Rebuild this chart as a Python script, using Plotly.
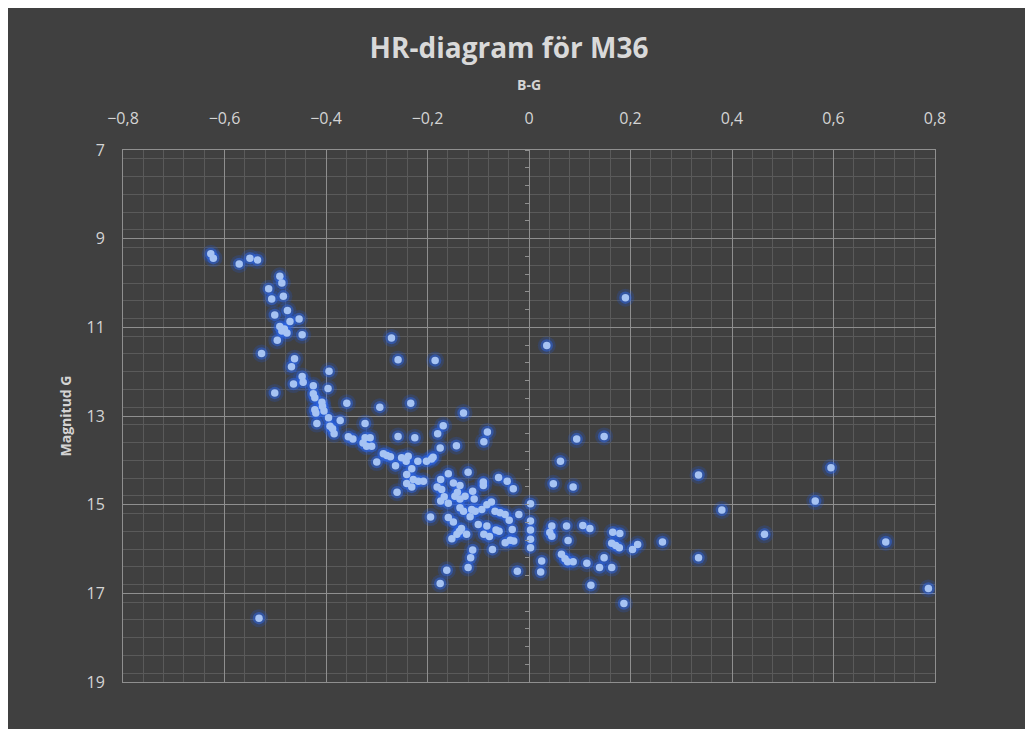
import plotly.graph_objects as go

# B-G colour index (x) and G magnitude (y)
bg = [
    -0.627, -0.622, -0.571, -0.550, -0.535, -0.491, -0.487, -0.513, -0.507, -0.484,
    -0.476, -0.501, -0.453, -0.471, -0.491, -0.482, -0.477, -0.487, -0.447, -0.496,
    -0.527, -0.462, -0.468, -0.394, -0.447, -0.445, -0.464, -0.425, -0.396, -0.501,
    -0.425, -0.422, -0.408, -0.407, -0.359, -0.422, -0.404, -0.420, -0.395, -0.372,
    -0.418, -0.392, -0.387, -0.384, -0.294, -0.323, -0.258, -0.356, -0.347, -0.323,
    -0.313, -0.327, -0.320, -0.310, -0.287, -0.280, -0.273, -0.300, -0.263, -0.271,
    -0.258, -0.185, -0.233, -0.129, -0.169, -0.180, -0.082, -0.225, -0.089, -0.143,
    -0.175, -0.251, -0.238, -0.242, -0.219, -0.202, -0.192, -0.189, -0.231, -0.241,
    -0.228, -0.218, -0.208, -0.241, -0.231, -0.260, -0.159, -0.120, -0.090, -0.090,
    -0.060, -0.043, -0.031, -0.174, -0.181, -0.172, -0.149, -0.136, -0.141, -0.167,
    -0.174, -0.159, -0.146, -0.136, -0.126, -0.111, -0.108, -0.136, -0.129, -0.113,
    -0.106, -0.093, -0.083, -0.074, -0.067, -0.057, -0.047, -0.039, -0.020, -0.194,
    -0.159, -0.149, -0.100, -0.123, -0.133, -0.137, -0.142, -0.089, -0.078, -0.065,
    -0.059, -0.152, -0.047, -0.037, -0.030, -0.072, -0.111, -0.115, -0.120, -0.162,
    -0.175, -0.083, -0.116, -0.033, 0.003, 0.003, 0.003, 0.003, 0.003, -0.023,
    0.025, 0.023, 0.094, 0.148, 0.062, 0.048, 0.087, 0.045, 0.041, 0.045,
    0.074, 0.106, 0.120, 0.077, 0.165, 0.179, 0.163, 0.171, 0.178, 0.214,
    0.204, 0.064, 0.071, 0.076, 0.087, 0.114, 0.148, 0.139, 0.163, 0.122,
    0.187, 0.190, 0.035, 0.334, 0.595, 0.564, 0.380, 0.464, 0.703, 0.263,
    0.334, 0.787, -0.532,
]
mag = [
    9.34, 9.44, 9.57, 9.44, 9.48, 9.85, 10.00, 10.13, 10.36, 10.30,
    10.62, 10.72, 10.81, 10.87, 10.98, 11.04, 11.13, 11.08, 11.17, 11.29,
    11.59, 11.71, 11.89, 11.99, 12.11, 12.24, 12.28, 12.32, 12.38, 12.48,
    12.50, 12.59, 12.69, 12.78, 12.71, 12.86, 12.89, 12.93, 13.04, 13.10,
    13.17, 13.23, 13.29, 13.40, 12.80, 13.17, 13.46, 13.47, 13.52, 13.49,
    13.49, 13.61, 13.68, 13.68, 13.85, 13.89, 13.92, 14.04, 14.12, 11.24,
    11.73, 11.75, 12.71, 12.93, 13.22, 13.40, 13.36, 13.49, 13.58, 13.67,
    13.72, 13.94, 13.91, 14.02, 14.02, 14.02, 13.97, 13.93, 14.19, 14.32,
    14.43, 14.47, 14.47, 14.52, 14.60, 14.72, 14.30, 14.27, 14.49, 14.57,
    14.39, 14.47, 14.64, 14.43, 14.60, 14.66, 14.51, 14.57, 14.72, 14.82,
    14.92, 14.97, 14.81, 14.87, 14.81, 14.70, 14.87, 15.07, 15.15, 15.11,
    15.15, 15.11, 15.00, 14.94, 15.15, 15.18, 15.22, 15.35, 15.22, 15.28,
    15.29, 15.39, 15.45, 15.67, 15.54, 15.60, 15.67, 15.67, 15.72, 15.57,
    15.60, 15.77, 15.86, 15.80, 15.82, 16.01, 16.02, 16.20, 16.42, 16.48,
    16.78, 15.48, 15.27, 15.56, 14.98, 15.37, 15.57, 15.78, 15.97, 16.50,
    16.27, 16.52, 13.52, 13.46, 14.02, 14.53, 14.60, 15.48, 15.63, 15.71,
    15.48, 15.47, 15.54, 15.81, 15.62, 15.65, 15.87, 15.92, 15.97, 15.90,
    16.01, 16.12, 16.22, 16.29, 16.29, 16.32, 16.20, 16.42, 16.42, 16.82,
    17.23, 10.33, 11.41, 14.33, 14.17, 14.92, 15.12, 15.67, 15.84, 15.84,
    16.20, 16.89, 17.56,
]

title_text = "HR-diagram för M36"
x_title = "B-G"
y_title = "Magnitud G"
x_range = [-0.8, 0.8]
y_range = [19, 7]

BG = "#404040"
MAJOR = "#8f8f8f"
MINOR = "#5a5a5a"
TXT = "#d4d4d4"
FONT = "Open Sans"

W, H = 1025, 722
L, T, R, B = 115, 142, 98, 48

fig = go.Figure()

# soft glow layers
fig.add_trace(go.Scatter(x=bg, y=mag, mode="markers", hoverinfo="skip", showlegend=False,
                         marker=dict(size=18, color="rgba(30,90,230,0.2)", line=dict(width=0))))
fig.add_trace(go.Scatter(x=bg, y=mag, mode="markers", hoverinfo="skip", showlegend=False,
                         marker=dict(size=12.5, color="rgba(45,105,240,0.45)", line=dict(width=0))))
# core markers
fig.add_trace(go.Scatter(x=bg, y=mag, mode="markers", name="M36", showlegend=False,
                         marker=dict(size=7.5, color="#a6c3f3", line=dict(width=0))))
# helper trace for the vertical axis drawn through x = 0
fig.add_trace(go.Scatter(x=[None], y=[None], yaxis="y2", showlegend=False, hoverinfo="skip"))

pw, ph = W - L - R, H - T - B

fig.update_layout(
    width=W, height=H,
    paper_bgcolor="white", plot_bgcolor=BG,
    margin=dict(l=L, r=R, t=T, b=B),
    separators=", ",
    font=dict(family=FONT, color=TXT),
    title=dict(text=title_text, x=501 / W, xref="container", xanchor="center", y=1 - 40 / H,
               yref="container", yanchor="middle",
               font=dict(family=FONT, size=28, color="#d9d9d9", weight="bold")),
    xaxis=dict(
        range=x_range, side="top", dtick=0.2, tick0=0,
        showgrid=True, gridcolor=MAJOR, gridwidth=1,
        minor=dict(dtick=0.04, showgrid=True, gridcolor=MINOR, gridwidth=1),
        zeroline=False, showline=True, linecolor=MAJOR, mirror=True,
        ticks="", ticklabelstandoff=19,
        tickfont=dict(family=FONT, size=16, color=TXT),
        title=dict(text=x_title, standoff=12, font=dict(family=FONT, size=14, color=TXT, weight="bold")),
    ),
    yaxis=dict(
        range=y_range, dtick=2, tick0=7,
        showgrid=True, gridcolor=MAJOR, gridwidth=1,
        minor=dict(dtick=0.4, showgrid=True, gridcolor=MINOR, gridwidth=1),
        zeroline=False, showline=True, linecolor=MAJOR, mirror=True,
        ticks="", ticklabelstandoff=14,
        tickfont=dict(family=FONT, size=16, color=TXT),
        title=dict(text=y_title, standoff=11, font=dict(family=FONT, size=14, color=TXT, weight="bold")),
    ),
    yaxis2=dict(
        range=y_range, overlaying="y", anchor="free", position=0.5,
        showgrid=False, zeroline=False, showline=False, showticklabels=False,
        ticks="outside", ticklen=4, tickwidth=1, tickcolor=MAJOR, dtick=0.4, tick0=7,
    ),
    shapes=[dict(type="rect", xref="paper", yref="paper", layer="below",
                 x0=-L / pw, x1=(W - 2 - L) / pw, y0=-(B - 1) / ph, y1=(ph + T) / ph,
                 fillcolor=BG, line=dict(width=0))],
)

fig.write_html("out.html")
